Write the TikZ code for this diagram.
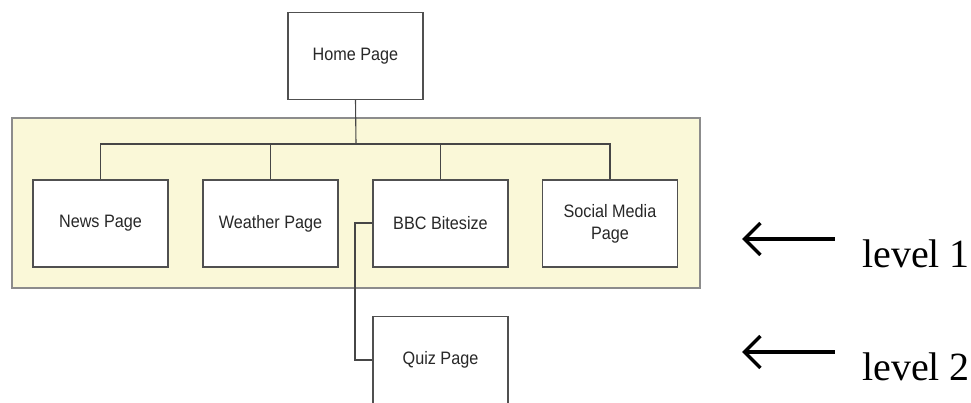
\documentclass[tikz,border=0pt]{standalone}
\usepackage{fontspec}
\setmainfont{Liberation Serif}
\newfontfamily\boxfont[FakeStretch=0.9]{Liberation Sans}
\usetikzlibrary{arrows.meta}
\definecolor{bandfill}{RGB}{250,248,216}
\definecolor{bandedge}{RGB}{140,140,140}
\definecolor{boxedge}{RGB}{80,80,80}
\definecolor{wire}{RGB}{70,70,70}
\definecolor{boxtext}{RGB}{40,40,40}
\tikzset{
  page/.style={draw=boxedge, line width=1.4pt, fill=white, minimum width=135pt, minimum height=87pt,
    inner sep=0pt, align=center, text=boxtext, font=\boxfont\fontsize{18}{22}\selectfont},
  wirel/.style={draw=wire, line width=1.1pt},
  lvlarrow/.style={line width=3.8pt, black, {Straight Barb[length=16pt,width=32pt,line width=3.4pt]}-},
  lvltext/.style={anchor=base west, inner sep=0pt, font=\fontsize{40}{44}\selectfont}
}
\begin{document}
\begin{tikzpicture}[x=1pt,y=-1pt]
\useasboundingbox (0,0) rectangle (971,403);
\clip (0,0) rectangle (971,403);
% band
\node[draw=bandedge, line width=1.2pt, fill=bandfill, minimum width=688pt, minimum height=170pt, inner sep=0pt] (band) at (356,203) {};
% pages
\node[page] (home) at (355.5,56) {Home Page};
\node[page] (news) at (100.5,223.5) {News Page};
\node[page] (weather) at (270.5,223.5) {Weather Page};
\node[page] (bbc) at (440.5,223.5) {BBC Bitesize};
\node[page] (social) at (610,223.5) {Social Media\\Page};
\node[page, minimum height=95pt, anchor=north] (quiz) at (440.5,316) {};
\node[text=boxtext, font=\boxfont\fontsize{18}{22}\selectfont] (quiztext) at (440.5,360) {Quiz Page};
% connectors
\coordinate (bus) at (356,144);
\draw[wirel] (home.south) -- (bus);
\draw[wirel] (news.north) |- (bus);
\draw[wirel] (weather.north) |- (bus);
\draw[wirel] (bbc.north) |- (bus);
\draw[wirel] (social.north) |- (bus);
\coordinate (elbow) at (355,223);
\draw[wirel] (bbc.west |- elbow) -- (elbow) |- (quiz.west |- quiztext);
% levels
\coordinate (a1s) at (742,239);
\coordinate (a1e) at (835,239);
\coordinate (a2s) at (742,352);
\coordinate (a2e) at (835,352);
\draw[lvlarrow] (a1s) -- (a1e);
\draw[lvlarrow] (a2s) -- (a2e);
\node[lvltext] (l1) at (862,268) {level 1};
\node[lvltext] (l2) at (862,380) {level 2};
\end{tikzpicture}
\end{document}
